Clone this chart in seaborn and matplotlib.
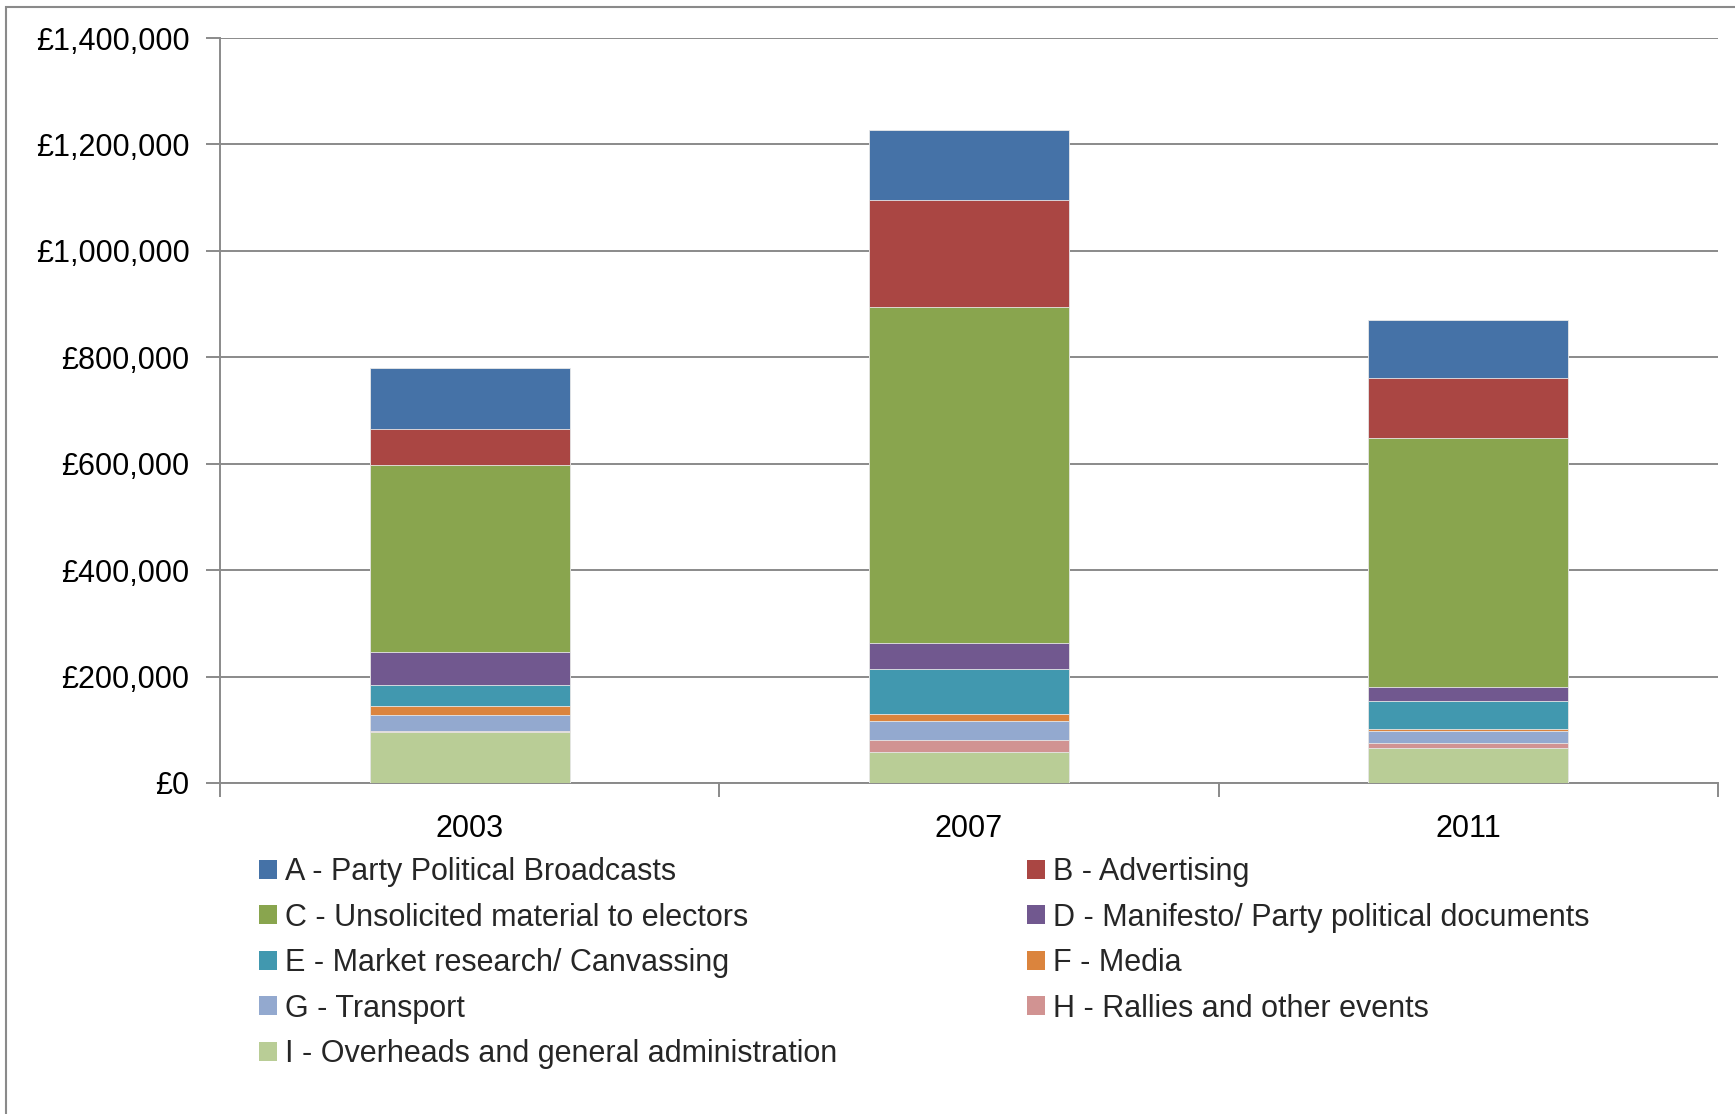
import seaborn as sns
import matplotlib.pyplot as plt
from matplotlib.patches import Patch, Rectangle
from matplotlib.ticker import FuncFormatter, FixedLocator
import numpy as np

# Election spending by category (GBP)
years = ["2003", "2007", "2011"]
categories = [
    "A - Party Political Broadcasts",
    "B - Advertising",
    "C - Unsolicited material to electors",
    "D - Manifesto/ Party political documents",
    "E - Market research/ Canvassing",
    "F - Media",
    "G - Transport",
    "H - Rallies and other events",
    "I - Overheads and general administration",
]
spend_a = [114000, 133000, 109000]
spend_b = [69000, 200000, 113000]
spend_c = [350000, 631000, 469000]
spend_d = [62000, 49000, 26000]
spend_e = [41000, 85000, 53000]
spend_f = [16000, 14000, 3000]
spend_g = [30000, 35000, 22000]
spend_h = [3000, 23000, 11000]
spend_i = [95000, 58000, 65000]

colors = ["#4572A7", "#AA4643", "#89A54E", "#71588F", "#4198AF",
          "#DB843D", "#93A9CF", "#D19392", "#B9CD96"]

series = [spend_a, spend_b, spend_c, spend_d, spend_e,
          spend_f, spend_g, spend_h, spend_i]

sns.set_theme(style="white")
plt.rcParams["font.family"] = ["Liberation Sans", "DejaVu Sans"]
grey = "#8a8a8a"
fs = 22

fig = plt.figure(figsize=(17.35, 11.14), dpi=100)
ax = fig.add_axes([220 / 1735, 1 - 783 / 1114, 1498 / 1735, 745 / 1114])

# stacked bars: draw cumulative totals from the top category downwards
stack = np.array(series)
for k in range(len(series)):
    cum = stack[k:].sum(axis=0)
    sns.barplot(x=years, y=cum, color=colors[k], saturation=1, width=0.4,
                ax=ax, edgecolor="#e8e8e8", linewidth=0.6, zorder=3)

ax.set_ylim(0, 1400000)
ax.set_yticks(np.arange(0, 1400001, 200000))
ax.yaxis.set_major_formatter(FuncFormatter(lambda v, p: f"£{v:,.0f}"))
ax.yaxis.grid(True, color=grey, linewidth=1.4, zorder=0)
ax.set_axisbelow(True)

ax.set_xlim(-0.5, 2.5)
ax.xaxis.set_major_locator(FixedLocator([-0.5, 0.5, 1.5, 2.5]))
ax.xaxis.set_major_formatter(plt.NullFormatter())
ax.xaxis.set_minor_locator(FixedLocator([0, 1, 2]))
ax.set_xticklabels(years, minor=True)
ax.tick_params(axis="x", which="major", length=10, width=1.4, color=grey, direction="out", bottom=True)
ax.tick_params(axis="x", which="minor", length=0, pad=22, labelsize=fs, colors="black")
ax.tick_params(axis="y", length=10, width=1.4, color=grey, direction="out", left=True,
               pad=12, labelsize=fs, labelcolor="black")
ax.set_xlabel("")
ax.set_ylabel("")

for s in ["top", "right"]:
    ax.spines[s].set_visible(False)
for s in ["left", "bottom"]:
    ax.spines[s].set_color(grey)
    ax.spines[s].set_linewidth(1.4)

# legend in two columns: A C E G I | B D F H
order = [0, 2, 4, 6, 8, 1, 3, 5, 7]
handles = [Patch(facecolor=colors[i], edgecolor="none", label=categories[i]) for i in order]
fig.legend(handles=handles, loc="upper left", bbox_to_anchor=(259 / 1735, 1 - 857 / 1114),
           ncol=2, frameon=False, fontsize=fs, handlelength=0.58, handleheight=0.58,
           handletextpad=0.28, labelspacing=0.51, columnspacing=6.2, borderpad=0,
           borderaxespad=0)

# outer chart frame
fig.add_artist(Rectangle((6 / 1735, -0.5), 2, 1.5 - 7 / 1114, transform=fig.transFigure,
                         fill=False, edgecolor=grey, linewidth=1.5))

plt.savefig("out.png", dpi=100)
plt.close()
